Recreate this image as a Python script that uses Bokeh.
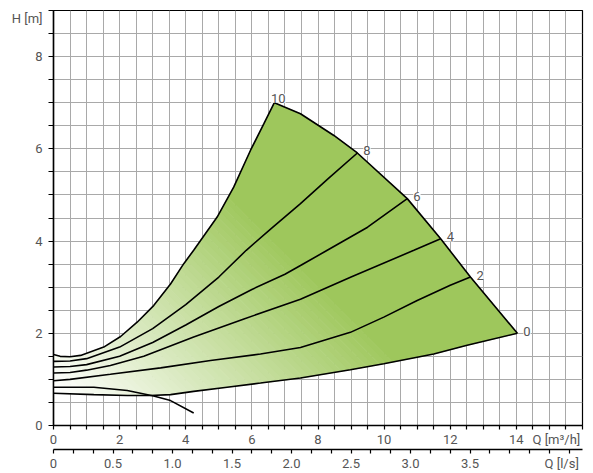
import numpy as np
from bokeh.plotting import figure
from bokeh.models import (Range1d, LinearAxis, FixedTicker, Label, CustomJSTickFormatter)
from bokeh.embed import file_html
from bokeh.resources import INLINE

# ---------------- data ----------------
# flow Q [m3/h], head H [m]
q10 = [0.0, 0.2, 0.5, 0.82, 1.52, 2.03, 2.53, 3.03, 3.54, 3.94, 4.24, 4.95, 5.45, 5.96, 6.36, 6.68]
h10 = [1.54, 1.50, 1.49, 1.52, 1.70, 1.93, 2.24, 2.60, 3.07, 3.51, 3.80, 4.52, 5.17, 5.97, 6.54, 7.00]

q8 = [0.0, 0.5, 1.0, 2.0, 3.0, 4.0, 5.0, 5.83, 6.6, 7.47, 8.3, 9.19]
h8 = [1.39, 1.40, 1.45, 1.70, 2.10, 2.62, 3.22, 3.80, 4.28, 4.81, 5.35, 5.91]

q6 = [0.0, 0.5, 1.0, 2.0, 3.0, 4.0, 5.0, 6.0, 7.0, 7.47, 8.28, 9.5, 10.70]
h6 = [1.27, 1.28, 1.32, 1.50, 1.80, 2.18, 2.58, 2.95, 3.28, 3.47, 3.80, 4.30, 4.92]

q4 = [0.0, 0.5, 1.0, 1.72, 2.73, 4.24, 5.76, 7.47, 9.0, 10.9, 11.71]
h4 = [1.14, 1.15, 1.20, 1.30, 1.50, 1.92, 2.31, 2.74, 3.22, 3.80, 4.05]

q2 = [0.0, 0.5, 1.72, 3.24, 4.75, 6.26, 7.47, 8.98, 9.99, 11.0, 12.0, 12.61]
h2 = [0.97, 1.00, 1.11, 1.25, 1.41, 1.55, 1.69, 2.02, 2.35, 2.71, 3.04, 3.22]

q0 = [0.0, 1.22, 2.23, 2.93, 3.54, 4.24, 5.25, 6.26, 7.47, 8.98, 9.99, 11.5, 12.51, 14.03]
h0 = [0.70, 0.67, 0.65, 0.65, 0.67, 0.74, 0.83, 0.92, 1.03, 1.21, 1.34, 1.55, 1.74, 2.00]

# curve below the operating range
qx = [0.0, 1.22, 2.23, 3.03, 3.54, 4.24]
hx = [0.83, 0.83, 0.76, 0.64, 0.54, 0.27]

# maximum boundary (from the "10" point to the "0" point)
qmax = [6.68, 7.47, 8.48, 9.19, 10.70, 11.71, 12.61, 14.03]
hmax = [7.00, 6.76, 6.29, 5.91, 4.92, 4.05, 3.22, 2.00]

curve_names = ["0", "2", "4", "6", "8", "10"]
curves_q = [q0, q2, q4, q6, q8, q10]
curves_h = [h0, h2, h4, h6, h8, h10]

x_major = [0, 2, 4, 6, 8, 10, 12, 14]
y_major = [0, 2, 4, 6, 8]
ls_major = [0, 0.5, 1.0, 1.5, 2.0, 2.5, 3.0, 3.5]
x_title, y_title, ls_title = "Q [m³/h]", "H [m]", "Q [l/s]"

# ---------------- figure ----------------
p = figure(width=593, height=473, x_range=Range1d(0, 16), y_range=Range1d(0, 9),
           output_backend="svg", toolbar_location=None,
           min_border_left=53, min_border_right=11, min_border_top=10, min_border_bottom=48)
p.outline_line_color = "black"
p.outline_line_width = 1.2
p.background_fill_color = "white"
p.border_fill_color = "white"

FONT = "Roboto"
TXT = "#555555"

# grid
p.xgrid.ticker = FixedTicker(ticks=list(np.arange(0, 16.01, 0.5)))
p.ygrid.ticker = FixedTicker(ticks=list(np.arange(0, 9.01, 0.5)))
p.grid.grid_line_color = "#a9a9a9"
p.grid.grid_line_width = 1

# gradient-filled operating region
poly = list(zip(q0, h0)) + list(zip(qmax[::-1], hmax[::-1]))[1:] + list(zip(q10[::-1], h10[::-1]))[1:]

SX, SY = 33.06, 46.1  # pixel per unit, for the gradient direction

def clip(pts, lo, hi):
    def half(pts, c, keep_ge):
        out = []
        n = len(pts)
        for i in range(n):
            a = pts[i]; b = pts[(i + 1) % n]
            sa = a[0] * SX + a[1] * SY - c
            sb = b[0] * SX + b[1] * SY - c
            ina = sa >= 0 if keep_ge else sa <= 0
            inb = sb >= 0 if keep_ge else sb <= 0
            if ina:
                out.append(a)
            if ina != inb:
                t = sa / (sa - sb)
                out.append((a[0] + t * (b[0] - a[0]), a[1] + t * (b[1] - a[1])))
        return out
    r = pts
    if lo is not None:
        r = half(r, lo, True)
    if r and hi is not None:
        r = half(r, hi, False)
    return r

g0 = np.array([255, 255, 255]); g1 = np.array([158, 199, 92])
s0, s1, N = 35.0, 410.0, 50
edges = np.linspace(s0, s1, N + 1)
xs, ys, cols = [], [], []
for i in range(N + 1):
    lo = None if i == 0 else edges[i - 1]
    hi = edges[i] if i < N else None
    part = clip(poly, lo, hi)
    if len(part) < 3:
        continue
    if i == 0:
        t = 0.0
    elif i == N:
        t = 1.0
    else:
        t = ((edges[i - 1] + edges[i]) / 2 - s0) / (s1 - s0)
    c = (g0 + (g1 - g0) * t).round().astype(int)
    xs.append([pt[0] for pt in part]); ys.append([pt[1] for pt in part])
    cols.append("#%02x%02x%02x" % tuple(c))
p.patches(xs, ys, fill_color=cols, line_color=cols, line_width=0.8)

# curves
for cq, ch in zip(curves_q, curves_h):
    p.line(cq, ch, line_color="black", line_width=1.6)
p.line(qx, hx, line_color="black", line_width=1.6)
p.line(qmax, hmax, line_color="black", line_width=1.6)

# curve labels
for name, cq, ch in zip(curve_names, curves_q, curves_h):
    if name == "10":
        lab = Label(x=cq[-1], y=ch[-1], text=name, x_offset=4, y_offset=0,
                    text_align="center", text_baseline="bottom")
    else:
        lab = Label(x=cq[-1], y=ch[-1], text=name, x_offset=6, y_offset=2,
                    text_align="left", text_baseline="middle")
    lab.text_font = FONT
    lab.text_font_size = "13px"
    lab.text_color = TXT
    lab.background_fill_color = "white"
    p.add_layout(lab)

# axes (visible tick marks are drawn as minor ticks; the title sits at an extra, mark-less major tick)
xa = p.xaxis[0]
xa.ticker = FixedTicker(ticks=x_major + [15.21], minor_ticks=list(np.arange(0, 16.01, 0.5)))
xa.formatter = CustomJSTickFormatter(args=dict(t=x_title),
                                     code="return tick > 15 ? t : tick.toFixed(0);")
ya = p.yaxis[0]
ya.ticker = FixedTicker(ticks=y_major + [8.83], minor_ticks=list(np.arange(0, 9.01, 0.5)))
ya.formatter = CustomJSTickFormatter(args=dict(t=y_title),
                                     code="return tick > 8.5 ? t : tick.toFixed(0);")

p.extra_x_ranges = {"ls": Range1d(0, 16 / 3.6)}
ax2 = LinearAxis(x_range_name="ls",
                 ticker=FixedTicker(ticks=ls_major + [4.27], minor_ticks=list(np.arange(0, 4.45, 0.5 / 3))),
                 formatter=CustomJSTickFormatter(args=dict(t=ls_title),
                     code="return tick > 4.1 ? t : (tick == 0 ? '0' : tick.toFixed(1));"))
p.add_layout(ax2, "below")

for ax in [xa, ya, ax2]:
    ax.axis_line_color = "black"
    ax.axis_line_width = 1.5
    ax.major_tick_line_color = None
    ax.minor_tick_line_color = "black"
    ax.minor_tick_line_width = 1.2
    ax.major_tick_in = 0
    ax.major_tick_out = 0
    ax.minor_tick_in = 0
    ax.minor_tick_out = 4
    ax.major_label_text_font = FONT
    ax.major_label_text_font_size = "13px"
    ax.major_label_text_color = TXT
    ax.major_label_standoff = 2
ya.minor_tick_out = 5
ya.major_label_standoff = 6

open("out.html", "w").write(file_html(p, INLINE))
